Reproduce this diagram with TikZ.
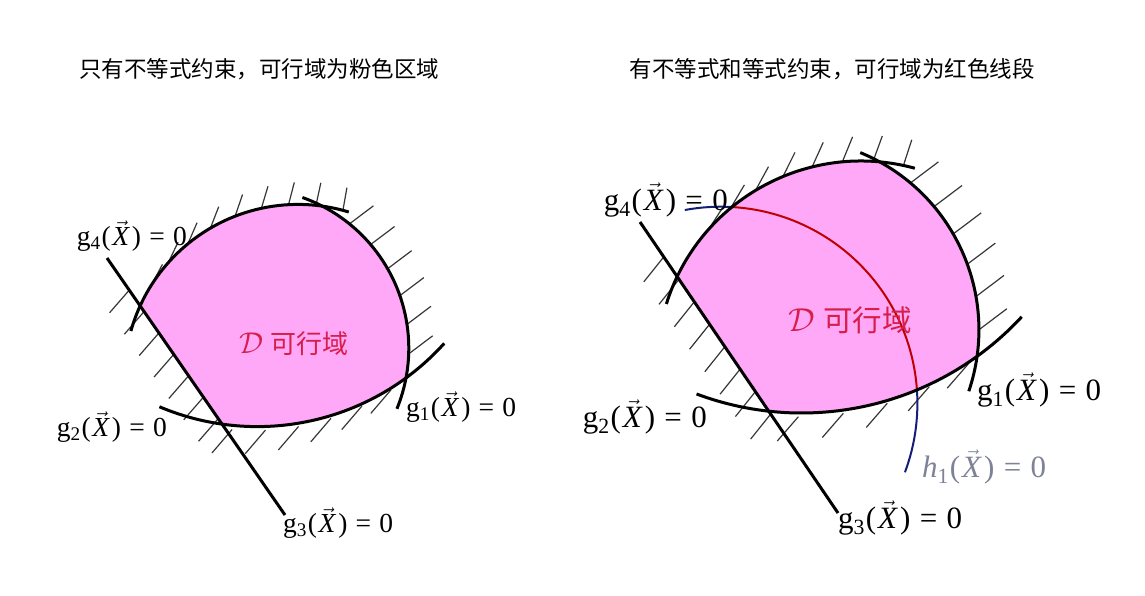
\documentclass[tikz,border=0pt]{standalone}
\usepackage{graphicx}
\usepackage{fontspec}
\setmainfont{Liberation Serif}
\newfontfamily\cjk{Noto Sans CJK SC}
\usetikzlibrary{calc}
\definecolor{pinkfill}{RGB}{255,168,248}
\definecolor{dred}{RGB}{215,30,75}
\definecolor{hred}{RGB}{190,0,0}
\definecolor{hblue}{RGB}{20,30,120}
\definecolor{hgray}{RGB}{125,130,150}
\definecolor{hatchc}{RGB}{55,55,55}
\newcommand{\glab}[2]{#1\textsubscript{#2}\hspace{0.03em}(\hspace{0.06em}$\vec{\mbox{\itshape X}}$\hspace{0.1em})\hspace{0.3em}=\hspace{0.3em}0}
\newcommand{\dlab}[1]{\scalebox{#1}{\fontsize{20.74}{21}\selectfont$\mathcal{D}$}\hspace{0.3em}可行域}
% center, radius, a0, a1, intervals, d0, d1, length, gap
\newcommand{\hatcharc}[9]{%
  \foreach \i in {0,...,#5}{%
    \pgfmathsetmacro{\ha}{(#3)+((#4)-(#3))*\i/#5}%
    \pgfmathsetmacro{\hd}{(#6)+((#7)-(#6))*\i/#5}%
    \draw[hatch] ($#1+(\ha:#2)+(\hd:#9)$) -- ++(\hd:#8);
  }}
% A, B, t0, t1, intervals, direction, length
\newcommand{\hatchline}[7]{%
  \foreach \i in {0,...,#5}{%
    \pgfmathsetmacro{\ht}{(#3)+((#4)-(#3))*\i/#5}%
    \draw[hatch] ($#1!\ht!#2$) -- ++(#6:#7);
  }}
\begin{document}
\begin{tikzpicture}[x=1pt,y=-1pt,
  bound/.style={line width=3pt,black},
  hatch/.style={line width=1.2pt,hatchc},
  hline/.style={line width=2pt},
  title/.style={font=\cjk\fontsize{22.5}{24}\selectfont,black},
  glabl/.style={font=\fontsize{27.5}{29}\selectfont,inner sep=0pt},
  glabr/.style={font=\fontsize{31}{33}\selectfont,inner sep=0pt},
]
\useasboundingbox (0,0) rectangle (1145,596);
\fill[white] (0,0) rectangle (1145,596);

% titles
\node[title] (t1) at (259,69) {只有不等式约束，可行域为粉色区域};
\node[title] (t2) at (832,69) {有不等式和等式约束，可行域为红色线段};

% ================= left diagram =================
\coordinate (c4l) at (298,378);
\coordinate (c1l) at (248.7,348.3);
\coordinate (c2l) at (257.3,175.1);
\coordinate (a3l) at (107,258);
\coordinate (b3l) at (285,515);

\fill[pinkfill] ($(c4l)+(-155.5:173.6)$) arc[start angle=-155.5,end angle=-82.05,radius=173.6]
  -- ($(c1l)+(-62.75:160.1)$) arc[start angle=-62.75,end angle=10.7,radius=160.1]
  -- ($(c2l)+(53.76:251.5)$) arc[start angle=53.76,end angle=98.3,radius=251.5] -- cycle;

\hatcharc{(c4l)}{173.6}{-147.5}{-75}{8}{-62}{-80}{23}{0}
\hatcharc{(c1l)}{160.1}{-51}{2}{5}{-37}{-37}{30}{0}
\hatcharc{(c2l)}{251.5}{95}{57}{5}{130.6}{130.6}{31}{5}
\hatchline{(a3l)}{(b3l)}{0.125}{0.625}{6}{131}{30}

\draw[bound] ($(c4l)+(-164.3:173.6)$) arc[start angle=-164.3,end angle=-73,radius=173.6];
\draw[bound] ($(c1l)+(-70.4:160.1)$) arc[start angle=-70.4,end angle=22.2,radius=160.1];
\draw[bound] ($(c2l)+(112.9:251.5)$) arc[start angle=112.9,end angle=42,radius=251.5];
\draw[bound] (a3l) -- (b3l);

\node[font=\cjk\fontsize{26}{28}\selectfont,text=dred] (dl) at (294,344) {\dlab{1.45}};
\node[glabl,anchor=east] (g4l) at (187,236) {\glab{g}{4}};
\node[glabl,anchor=east] (g2l) at (167,427) {\glab{g}{2}};
\node[glabl,anchor=west] (g1l) at (406,407) {\glab{g}{1}};
\node[glabl,anchor=west] (g3l) at (283,523) {\glab{g}{3}};

% ================= right diagram =================
\coordinate (c4r) at (861,365);
\coordinate (c1r) at (787.2,329.8);
\coordinate (c2r) at (801.6,113);
\coordinate (chr) at (720.7,403.4);
\coordinate (a3r) at (640,222);
\coordinate (b3r) at (838,513);

\fill[pinkfill] ($(c4r)+(-154.5:204)$) arc[start angle=-154.5,end angle=-84.6,radius=204]
  -- ($(c1r)+(-61.05:191.7)$) arc[start angle=-61.05,end angle=8.16,radius=191.7]
  -- ($(c2r)+(54.45:300)$) arc[start angle=54.45,end angle=96.4,radius=300] -- cycle;

\hatcharc{(c4r)}{204}{-147}{-78}{8}{-55}{-72}{27}{0}
\hatcharc{(c1r)}{191.7}{-50}{0}{5}{-37}{-37}{35}{0}
\hatcharc{(c2r)}{300}{90}{55.5}{4}{131}{131}{32}{5}
\hatchline{(a3r)}{(b3r)}{0.12}{0.66}{7}{128.7}{32}

\draw[hline,hblue] ($(chr)+(-100.5:196.7)$) arc[start angle=-100.5,end angle=-86.7,radius=196.7];
\draw[hline,hred] ($(chr)+(-86.7:196.7)$) arc[start angle=-86.7,end angle=-3.6,radius=196.7];
\draw[hline,hblue] ($(chr)+(-3.6:196.7)$) arc[start angle=-3.6,end angle=20.5,radius=196.7];

\draw[bound] ($(c4r)+(-162.6:204)$) arc[start angle=-162.6,end angle=-74.7,radius=204];
\draw[bound] ($(c1r)+(-67.6:191.7)$) arc[start angle=-67.6,end angle=18.7,radius=191.7];
\draw[bound] ($(c2r)+(110.5:300)$) arc[start angle=110.5,end angle=42.8,radius=300];
\draw[bound] (a3r) -- (b3r);

\node[font=\cjk\fontsize{29.5}{31}\selectfont,text=dred] (dr) at (850,320) {\dlab{1.6}};
\node[glabr,anchor=east] (g4r) at (728,200) {\glab{g}{4}};
\node[glabr,anchor=east] (g2r) at (707,417) {\glab{g}{2}};
\node[glabr,anchor=west] (g1r) at (977,390) {\glab{g}{1}};
\node[glabr,anchor=west] (g3r) at (838,518) {\glab{g}{3}};
\node[glabr,anchor=west,text=hgray] (h1r) at (922,467) {\glab{\textit{h}}{1}};
\end{tikzpicture}
\end{document}
